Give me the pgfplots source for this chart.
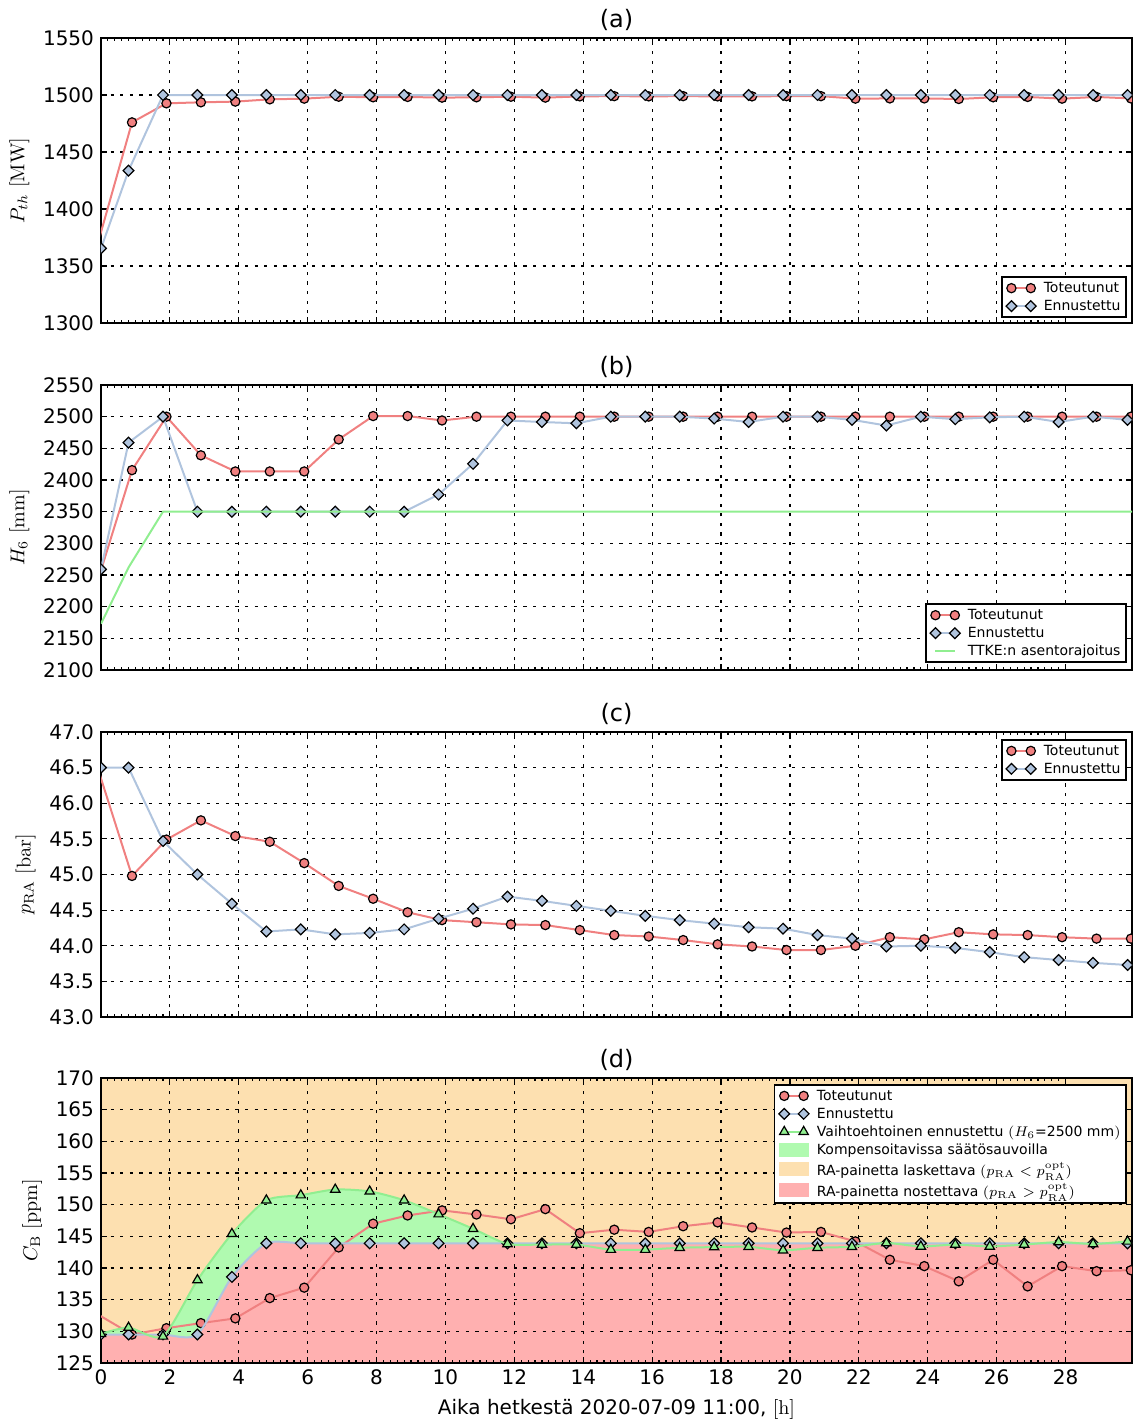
\documentclass[border=0pt]{standalone}
\usepackage[no-math]{fontspec}
\setmainfont{DejaVu Sans}
\usepackage{pgfplots}
\usepackage{pgfplotstable}
\pgfplotsset{compat=1.18}

\definecolor{totred}{RGB}{240,128,128}
\definecolor{ennblue}{RGB}{176,196,222}
\definecolor{altgreen}{RGB}{144,238,144}
\definecolor{compgreen}{RGB}{176,250,176}
\definecolor{lowerbg}{RGB}{253,224,176}
\definecolor{raisebg}{RGB}{255,176,176}

% layer order: shaded regions (pre main) sit below the grid
\pgfplotsset{
  layers/shadedgrid/.define layer set={
    axis background,pre main,axis grid,axis ticks,axis lines,
    axis tick labels,main,axis descriptions,axis foreground}{
    grid style={/pgfplots/on layer=axis grid},
    tick style={/pgfplots/on layer=axis ticks},
    axis line style={/pgfplots/on layer=axis lines},
    label style={/pgfplots/on layer=axis descriptions},
    legend style={/pgfplots/on layer=axis descriptions},
    title style={/pgfplots/on layer=axis descriptions},
    ticklabel style={/pgfplots/on layer=axis tick labels},
    axis background@ style={/pgfplots/on layer=axis background},
  },
}

% ---------------- (a) thermal power ----------------
\pgfplotstableread{
t v
-0.1 1369
0.9 1476
1.9 1492.7
2.9 1493.6
3.9 1494.2
4.9 1496.2
5.9 1496.8
6.9 1498.5
7.9 1498
8.9 1498.3
9.9 1497.7
10.9 1498
11.9 1498.5
12.9 1497.7
13.9 1498.8
14.9 1499
15.9 1498.8
16.9 1499
17.9 1498.8
18.9 1498.8
19.9 1499
20.9 1499
21.9 1496.8
22.9 1497
23.9 1497
24.9 1496.5
25.9 1498
26.9 1498.3
27.9 1496.8
28.9 1498.3
29.9 1497
}\totA
\pgfplotstableread{
t v
0 1365.4
0.8 1433.7
1.8 1500
2.8 1500
3.8 1500
4.8 1500
5.8 1500
6.8 1500
7.8 1500
8.8 1500
9.8 1500
10.8 1500
11.8 1500
12.8 1500
13.8 1500
14.8 1500
15.8 1500
16.8 1500
17.8 1500
18.8 1500
19.8 1500
20.8 1500
21.8 1500
22.8 1500
23.8 1500
24.8 1500
25.8 1500
26.8 1500
27.8 1500
28.8 1500
29.8 1500
}\ennA

% ---------------- (b) control rod position ----------------
\pgfplotstableread{
t v
-0.1 2240
0.9 2415.6
1.9 2500
2.9 2439
3.9 2413.5
4.9 2413.5
5.9 2413.5
6.9 2464
7.9 2501
8.9 2501
9.9 2494
10.9 2500
11.9 2500
12.9 2500
13.9 2500
14.9 2500
15.9 2500
16.9 2500
17.9 2500
18.9 2500
19.9 2500
20.9 2500
21.9 2500
22.9 2500
23.9 2500
24.9 2500
25.9 2500
26.9 2500
27.9 2500
28.9 2500
29.9 2500
}\totB
\pgfplotstableread{
t v
0 2259
0.8 2459
1.8 2500
2.8 2350
3.8 2350
4.8 2350
5.8 2350
6.8 2350
7.8 2350
8.8 2350
9.8 2377
10.8 2425.6
11.8 2494
12.8 2491.6
13.8 2489.5
14.8 2500
15.8 2500
16.8 2500
17.8 2497
18.8 2491.6
19.8 2500
20.8 2500
21.8 2495
22.8 2486
23.8 2500
24.8 2496
25.8 2499
26.8 2500
27.8 2491.6
28.8 2500
29.8 2495
}\ennB
\pgfplotstableread{
t v
0 2173
0.8 2262
1.8 2350
30 2350
}\limB

% ---------------- (c) primary pressure ----------------
\pgfplotstableread{
t v
-0.1 46.5
0.9 44.98
1.9 45.49
2.9 45.76
3.9 45.54
4.9 45.46
5.9 45.16
6.9 44.84
7.9 44.66
8.9 44.47
9.9 44.36
10.9 44.33
11.9 44.30
12.9 44.29
13.9 44.22
14.9 44.15
15.9 44.13
16.9 44.08
17.9 44.02
18.9 43.99
19.9 43.94
20.9 43.94
21.9 44.00
22.9 44.12
23.9 44.09
24.9 44.19
25.9 44.16
26.9 44.15
27.9 44.12
28.9 44.10
29.9 44.10
}\totC
\pgfplotstableread{
t v
0 46.5
0.8 46.5
1.8 45.47
2.8 45.0
3.8 44.59
4.8 44.20
5.8 44.23
6.8 44.16
7.8 44.18
8.8 44.23
9.8 44.38
10.8 44.52
11.8 44.69
12.8 44.63
13.8 44.56
14.8 44.49
15.8 44.42
16.8 44.36
17.8 44.31
18.8 44.26
19.8 44.24
20.8 44.15
21.8 44.10
22.8 43.99
23.8 44.00
24.8 43.97
25.8 43.91
26.8 43.84
27.8 43.80
28.8 43.76
29.8 43.73
}\ennC

% ---------------- (d) boron concentration ----------------
\pgfplotstableread{
t v
-0.1 132.7
0.9 129.5
1.9 130.5
2.9 131.3
3.9 132.05
4.9 135.25
5.9 136.9
6.9 143.25
7.9 147.0
8.9 148.3
9.9 149.1
10.9 148.45
11.9 147.7
12.9 149.3
13.9 145.5
14.9 146.05
15.9 145.7
16.9 146.6
17.9 147.2
18.9 146.4
19.9 145.6
20.9 145.7
21.9 144.2
22.9 141.3
23.9 140.3
24.9 137.9
25.9 141.3
26.9 137.1
27.9 140.3
28.9 139.5
29.9 139.65
}\totD
\pgfplotstableread{
t v
0 129.5
0.8 129.5
1.8 129.5
2.8 129.5
3.8 138.6
4.8 143.9
5.8 143.9
6.8 143.9
7.8 143.9
8.8 143.9
9.8 143.9
10.8 143.9
11.8 143.9
12.8 143.9
13.8 143.9
14.8 143.9
15.8 143.9
16.8 143.9
17.8 143.9
18.8 143.9
19.8 143.9
20.8 143.9
21.8 143.9
22.8 143.9
23.8 143.9
24.8 143.9
25.8 143.9
26.8 143.9
27.8 143.9
28.8 143.9
29.8 143.9
}\ennD
\pgfplotstableread{
t v
0 129.6
0.8 130.6
1.8 129.2
2.8 138.1
3.8 145.4
4.8 150.7
5.8 151.5
6.8 152.4
7.8 152.1
8.8 150.7
9.8 148.5
10.8 146.2
11.8 143.8
12.8 143.7
13.8 143.7
14.8 142.9
15.8 142.9
16.8 143.2
17.8 143.3
18.8 143.35
19.8 142.8
20.8 143.2
21.8 143.35
22.8 143.95
23.8 143.4
24.8 143.7
25.8 143.4
26.8 143.7
27.8 144.1
28.8 143.8
29.8 144.2
}\altD

\pgfplotsset{
  panel/.style={
    scale only axis, width=515.5pt, height=142.5pt,
    anchor=south west,
    xmin=0, xmax=29.93,
    xtick={0,2,...,28}, minor x tick num=9,
    tick align=inside, tick pos=both,
    major tick length=3pt, minor tick length=1.6pt,
    tick style={black, line width=0.6pt},
    xmajorgrids, ymajorgrids,
    major grid style={black, line width=0.6pt, dash pattern=on 1.6pt off 3.2pt},
    axis line style={line width=1.2pt},
    tick label style={font=\fontsize{10}{12}\selectfont},
    label style={font=\fontsize{10}{12}\selectfont},
    title style={font=\fontsize{12}{14}\selectfont, yshift=-6pt},
    /pgf/number format/assume math mode=true,
    /pgf/number format/1000 sep={},
    clip marker paths=true,
    legend cell align=left,
    legend style={draw=black, line width=0.9pt, fill=white,
      font=\fontsize{7}{8.4}\selectfont,
      inner xsep=2pt, inner ysep=1pt,
      nodes={inner sep=0.8pt}, column sep=3pt},
    legend image code/.code={\draw[##1] plot coordinates {(0pt,0pt) (9.7pt,0pt)};},
  },
  tot/.style={color=totred, line width=1pt, mark=*, mark size=2.3pt,
    mark options={solid, fill=totred, draw=black, line width=0.6pt}},
  enn/.style={color=ennblue, line width=1pt, mark=square*, mark size=1.9pt,
    mark options={solid, rotate=45, fill=ennblue, draw=black, line width=0.6pt}},
  alt/.style={color=altgreen, line width=1pt, mark=triangle*, mark size=2.7pt,
    mark options={solid, fill=altgreen, draw=black, line width=0.6pt}},
  patch/.style={legend image code/.code={\fill[##1] (-2.4pt,-3pt) rectangle (12.1pt,3pt);}},
}
\newcommand{\tallstrut}{\rule[-3.2pt]{0pt}{10.6pt}}

\begin{document}
\begin{tikzpicture}

% (a)
\begin{axis}[panel, at={(50.5pt,-161.5pt)}, title={(a)},
  ymin=1300, ymax=1550, ytick={1300,1350,...,1550}, xticklabels={},
  ylabel={$P_{th}$ $[\mathrm{MW}]$},
  legend style={at={(1,0)}, anchor=south east, xshift=-2.5pt, yshift=2.5pt}]
\addplot[tot] table[x=t, y=v] {\totA};
\addlegendentry{\strut Toteutunut}
\addplot[enn] table[x=t, y=v] {\ennA};
\addlegendentry{\strut Ennustettu}
\end{axis}

% (b)
\begin{axis}[panel, at={(50.5pt,-335pt)}, title={(b)},
  ymin=2100, ymax=2550, ytick={2100,2150,...,2550}, xticklabels={},
  ylabel={$H_6$ $[\mathrm{mm}]$},
  legend style={at={(1,0)}, anchor=south east, xshift=-2.5pt, yshift=3.5pt}]
\addplot[tot] table[x=t, y=v] {\totB};
\addlegendentry{\strut Toteutunut}
\addplot[enn] table[x=t, y=v] {\ennB};
\addlegendentry{\strut Ennustettu}
\addplot[altgreen, line width=1pt] table[x=t, y=v] {\limB};
\addlegendentry{\strut TTKE:n asentorajoitus}
\end{axis}

% (c)
\begin{axis}[panel, at={(50.5pt,-508.5pt)}, title={(c)},
  ymin=43, ymax=47, ytick={43,43.5,...,47}, xticklabels={},
  yticklabel style={/pgf/number format/fixed, /pgf/number format/fixed zerofill,
    /pgf/number format/precision=1},
  ylabel={$p_\mathrm{RA}$ $[\mathrm{bar}]$},
  legend style={at={(1,1)}, anchor=north east, xshift=-2.5pt, yshift=-3.5pt}]
\addplot[tot] table[x=t, y=v] {\totC};
\addlegendentry{\strut Toteutunut}
\addplot[enn] table[x=t, y=v] {\ennC};
\addlegendentry{\strut Ennustettu}
\end{axis}

% (d)
\begin{axis}[panel, at={(50.5pt,-681.5pt)}, title={(d)},
  set layers=shadedgrid,
  axis background/.style={fill=lowerbg},
  ymin=125, ymax=170, ytick={125,130,...,170},
  ylabel={$C_\mathrm{B}$ $[\mathrm{ppm}]$},
  xlabel={Aika hetkestä 2020-07-09 11:00, $[\mathrm{h}]$},
  legend style={at={(1,1)}, anchor=north east, xshift=-2.5pt, yshift=-3pt}]
% shaded regions: compensable band (below the alternative forecast),
% then the pressure-raise region below the forecast drawn over it
\addplot[fill=compgreen, draw=none, smooth, tension=0.4, forget plot, on layer=pre main]
  coordinates {
  (0,129.6) (0.8,130.6) (1.8,129.2) (2.8,138.1) (3.8,145.4) (4.8,150.7)
  (5.8,151.5) (6.8,152.4) (7.8,152.1) (8.8,150.7) (9.8,148.5) (10.8,146.2)
  (11.8,143.8) (12.8,143.7) (13.8,143.7) (14.8,142.9) (15.8,142.9) (16.8,143.2)
  (17.8,143.3) (18.8,143.35) (19.8,142.8) (20.8,143.2) (21.8,143.35) (22.8,143.95)
  (23.8,143.4) (24.8,143.7) (25.8,143.4) (26.8,143.7) (27.8,144.1) (28.8,143.8)
  (29.8,144.2) (30,144.2)} \closedcycle;
\addplot[fill=raisebg, draw=none, smooth, tension=0.4, forget plot, on layer=pre main]
  coordinates {
  (0,129.5) (0.8,129.5) (1.8,129.5) (2.8,129.5) (3.8,138.6) (4.8,143.9)
  (5.8,143.9) (6.8,143.9) (7.8,143.9) (8.8,143.9) (9.8,143.9) (10.8,143.9)
  (11.8,143.9) (12.8,143.9) (13.8,143.9) (14.8,143.9) (15.8,143.9) (16.8,143.9)
  (17.8,143.9) (18.8,143.9) (19.8,143.9) (20.8,143.9) (21.8,143.9) (22.8,143.9)
  (23.8,143.9) (24.8,143.9) (25.8,143.9) (26.8,143.9) (27.8,143.9) (28.8,143.9)
  (29.8,143.9) (30,143.9)} \closedcycle;
% series
\addplot[tot] table[x=t, y=v] {\totD};
\addlegendentry{\strut Toteutunut}
\addplot[enn, smooth, tension=0.4] table[x=t, y=v] {\ennD};
\addlegendentry{\strut Ennustettu}
\addplot[alt, smooth, tension=0.4] table[x=t, y=v] {\altD};
\addlegendentry{\strut Vaihtoehtoinen ennustettu $(H_6$=2500 mm$)$}
\addlegendimage{patch, compgreen}
\addlegendentry{\strut Kompensoitavissa säätösauvoilla}
\addlegendimage{patch, lowerbg}
\addlegendentry{\tallstrut RA-painetta laskettava $(p_\mathrm{RA}<p_\mathrm{RA}^\mathrm{opt})$}
\addlegendimage{patch, raisebg}
\addlegendentry{\tallstrut RA-painetta nostettava $(p_\mathrm{RA}>p_\mathrm{RA}^\mathrm{opt})$}
\end{axis}

% page frame
\pgfresetboundingbox
\path (0,0) rectangle (566.5pt,-712.5pt);
\end{tikzpicture}
\end{document}
